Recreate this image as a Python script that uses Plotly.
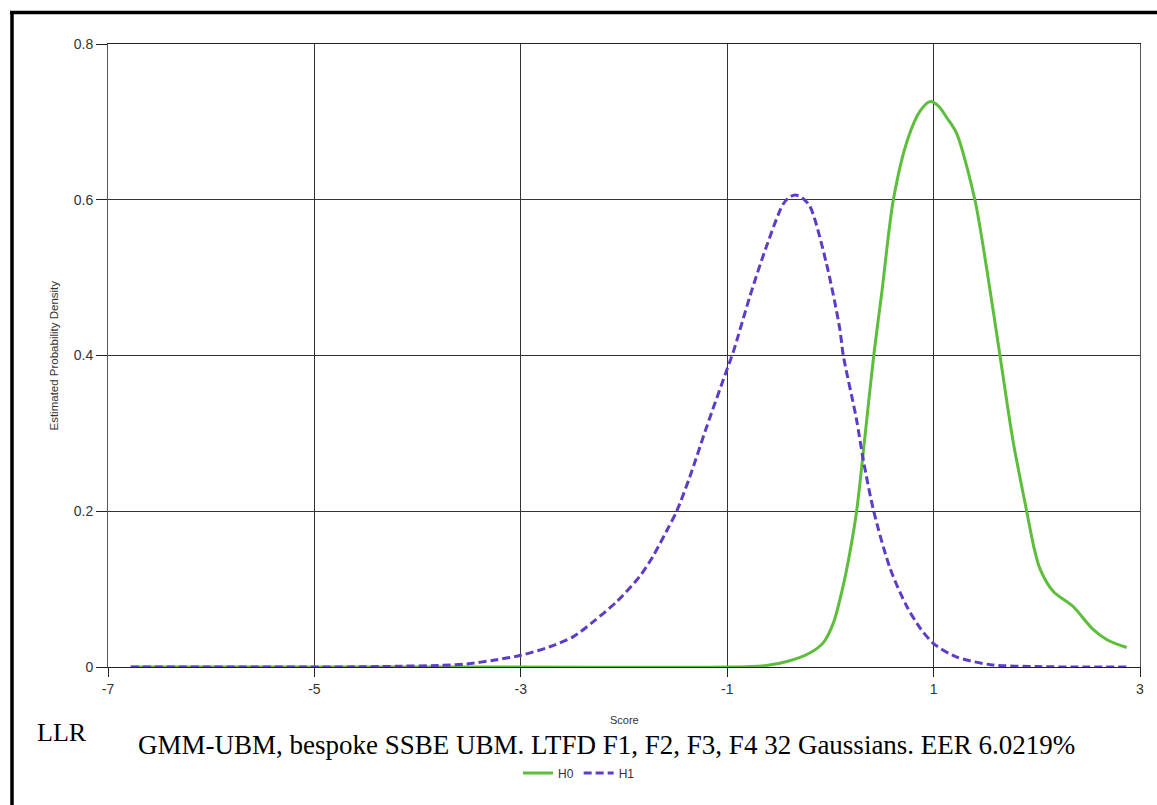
import plotly.graph_objects as go

# ---- data ----
h1_x = [-6.78, -6.0, -5.0, -4.5, -4.17, -3.8, -3.52, -3.25, -3.0, -2.72, -2.49, -2.30, -2.07,
        -1.85, -1.72, -1.59, -1.49, -1.36, -1.2, -1.0, -0.94, -0.78, -0.62, -0.46,
        -0.40, -0.34, -0.28, -0.20, -0.04, 0.09, 0.125, 0.25, 0.32, 0.42, 0.58, 0.74, 0.87,
        1.0, 1.22, 1.55, 2.0, 2.5, 2.87]
h1_y = [0.0, 0.0, 0.0, 0.0003, 0.001, 0.002, 0.004, 0.009, 0.015, 0.026, 0.039, 0.058, 0.084,
        0.116, 0.142, 0.174, 0.2, 0.245, 0.308, 0.383, 0.405, 0.476, 0.54, 0.594,
        0.603, 0.606, 0.603, 0.592, 0.519, 0.435, 0.40, 0.32, 0.265, 0.2, 0.126, 0.078, 0.05,
        0.030, 0.013, 0.003, 0.0005, 0.0, 0.0]

h0_x = [-6.78, -5.0, -3.0, -1.0, -0.62, -0.42, -0.2, -0.07, 0.03, 0.125, 0.19, 0.254, 0.33,
        0.42, 0.5, 0.61, 0.75, 0.87, 0.965, 1.05, 1.13, 1.224, 1.4, 1.514, 1.643, 1.77,
        1.902, 1.97, 2.031, 2.16, 2.35, 2.54, 2.68, 2.87]
h0_y = [0.0, 0.0, 0.0, 0.0, 0.002, 0.007, 0.018, 0.031, 0.057, 0.105, 0.148, 0.2, 0.29,
        0.4, 0.483, 0.6, 0.678, 0.714, 0.726, 0.72, 0.705, 0.685, 0.6, 0.512, 0.4, 0.29,
        0.2, 0.155, 0.126, 0.097, 0.078, 0.049, 0.035, 0.025]

x_ticks = [-7, -5, -3, -1, 1, 3]
y_ticks = [0, 0.2, 0.4, 0.6, 0.8]
y_tick_text = ["0", "0.2", "0.4", "0.6", "0.8"]

series_names = ["H0", "H1"]
caption = "GMM-UBM, bespoke SSBE UBM. LTFD F1, F2, F3, F4 32 Gaussians. EER 6.0219%"

SANS = "Liberation Sans, Arial, sans-serif"
SERIF = "Liberation Serif, Times New Roman, serif"

fig = go.Figure()
fig.add_trace(go.Scatter(x=h0_x, y=h0_y, mode="lines", name=series_names[0],
                         line=dict(color="#5CBE3A", width=3, shape="spline", smoothing=0.8)))
fig.add_trace(go.Scatter(x=h1_x, y=h1_y, mode="lines", name=series_names[1],
                         line=dict(color="#5E3CC8", width=3, dash="8px,4px",
                                   shape="spline", smoothing=0.8)))

W, H = 1157, 805
L, R, T, B = 108, 17, 44, 138
pw, ph = W - L - R, H - T - B


def px(xp):
    return (xp - L) / pw


def py(yp):
    return (H - B - yp) / ph


fig.update_layout(
    width=W, height=H,
    margin=dict(l=L, r=R, t=T, b=B),
    paper_bgcolor="white", plot_bgcolor="white",
    showlegend=True,
    legend=dict(orientation="h", x=px(579), xanchor="center", y=py(773), yanchor="middle",
                font=dict(family=SANS, size=12, color="#333"), itemwidth=30,
                bgcolor="rgba(0,0,0,0)"),
    xaxis=dict(range=[-7, 3], tickvals=x_ticks, ticktext=[str(v) for v in x_ticks],
               showgrid=True, gridcolor="#333", gridwidth=1, zeroline=False,
               showline=True, linecolor="#222", linewidth=1, mirror=True,
               ticks="outside", ticklen=9, tickcolor="#222",
               tickfont=dict(family=SANS, size=14, color="#333")),
    yaxis=dict(range=[0, 0.8], tickvals=y_ticks, ticktext=y_tick_text,
               showgrid=True, gridcolor="#333", gridwidth=1, zeroline=False,
               showline=True, linecolor="#555", linewidth=1, mirror=True,
               ticks="outside", ticklen=11, tickcolor="#222",
               tickfont=dict(family=SANS, size=14, color="#333")),
    annotations=[
        dict(text="Estimated Probability Density", xref="paper", yref="paper",
             x=px(53), y=0.5, textangle=-90, showarrow=False, xanchor="center", yanchor="middle",
             font=dict(family=SANS, size=11.5, color="#333")),
        dict(text="Score", xref="paper", yref="paper", x=0.5, y=py(720), showarrow=False,
             xanchor="center", yanchor="middle", font=dict(family=SANS, size=11, color="#333")),
        dict(text="LLR", xref="paper", yref="paper", x=px(35), y=py(732), showarrow=False,
             xanchor="left", yanchor="middle", font=dict(family=SERIF, size=26, color="black")),
        dict(text=caption, xref="paper", yref="paper", x=px(606), y=py(745), showarrow=False,
             xanchor="center", yanchor="middle", font=dict(family=SERIF, size=27, color="black")),
    ],
    shapes=[
        dict(type="line", xref="paper", yref="paper", x0=px(10), x1=px(1160),
             y0=py(12.5), y1=py(12.5), line=dict(color="black", width=3.5)),
        dict(type="line", xref="paper", yref="paper", x0=px(12), x1=px(12),
             y0=py(11), y1=py(806), line=dict(color="black", width=3.5)),
    ],
)

fig.write_html("out.html", config={"displayModeBar": False},
               post_script="document.body.style.margin='0';")
